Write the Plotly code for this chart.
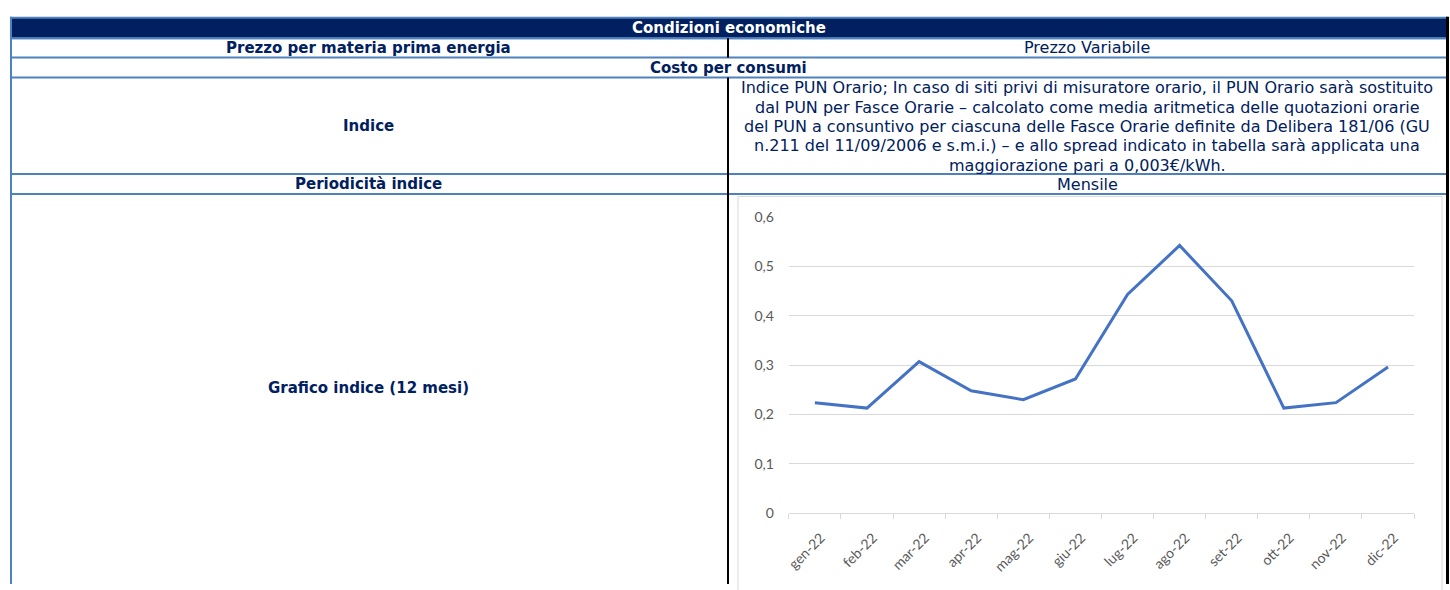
import plotly.graph_objects as go

# ---------------- data ----------------
months = ["gen-22", "feb-22", "mar-22", "apr-22", "mag-22", "giu-22",
          "lug-22", "ago-22", "set-22", "ott-22", "nov-22", "dic-22"]
pun_values = [0.224, 0.213, 0.307, 0.248, 0.230, 0.272,
              0.443, 0.542, 0.430, 0.213, 0.224, 0.296]
y_tick_vals = [0, 0.1, 0.2, 0.3, 0.4, 0.5, 0.6]
y_tick_text = ["0", "0,1", "0,2", "0,3", "0,4", "0,5", "0,6"]

header_title = "Condizioni economiche"
row_labels = ["Prezzo per materia prima energia", "Indice", "Periodicità indice",
              "Grafico indice (12 mesi)"]
span_label = "Costo per consumi"
prezzo_value = "Prezzo Variabile"
periodicita_value = "Mensile"
indice_lines = [
    "Indice PUN Orario; In caso di siti privi di misuratore orario, il PUN Orario sarà sostituito",
    "dal PUN per Fasce Orarie – calcolato come media aritmetica delle quotazioni orarie",
    "del PUN a consuntivo per ciascuna delle Fasce Orarie definite da Delibera 181/06 (GU",
    "n.211 del 11/09/2006 e s.m.i.) – e allo spread indicato in tabella sarà applicata una",
    "maggiorazione pari a 0,003€/kWh.",
]

# ---------------- layout helpers ----------------
W, H = 1450, 590


def px(x):
    return x / W


def py(y):
    return 1 - y / H


NAVY = "#002060"
BLUE = "#4F81BD"
GRID = "#D9D9D9"
TXT_FONT = "DejaVu Sans"
AX_FONT = "Lato"

fig = go.Figure()
fig.add_trace(go.Scatter(
    x=months, y=pun_values, mode="lines",
    line=dict(color="#4472C4", width=3),
    hoverinfo="x+y", showlegend=False,
))

shapes = []
# chart area frame
shapes.append(dict(type="rect", xref="paper", yref="paper",
                   x0=px(736), x1=px(1442), y0=py(193), y1=py(600),
                   line=dict(color=GRID, width=1), layer="below"))
# header band
shapes.append(dict(type="rect", xref="paper", yref="paper",
                   x0=px(7), x1=px(1447), y0=py(9), y1=py(30),
                   fillcolor=NAVY, line=dict(color=BLUE, width=2)))
# horizontal row lines
for yy in [30, 50, 70.5, 170, 190.5]:
    shapes.append(dict(type="line", xref="paper", yref="paper",
                       x0=px(6), x1=px(1447), y0=py(yy), y1=py(yy),
                       line=dict(color=BLUE, width=2)))
# left border
shapes.append(dict(type="line", xref="paper", yref="paper",
                   x0=px(7), x1=px(7), y0=py(8), y1=py(592),
                   line=dict(color=BLUE, width=2)))
# right border
shapes.append(dict(type="line", xref="paper", yref="paper",
                   x0=px(1447.5), x1=px(1447.5), y0=py(8), y1=py(592),
                   line=dict(color="black", width=3)))
# column divider
for (a, b) in [(30, 50), (70.5, 592)]:
    shapes.append(dict(type="line", xref="paper", yref="paper",
                       x0=px(726), x1=px(726), y0=py(a), y1=py(b),
                       line=dict(color="black", width=2)))

annotations = []


def add_text(text, cx, cy, bold=False, color=NAVY, size=16):
    t = f"<b>{text}</b>" if bold else text
    annotations.append(dict(text=t, xref="paper", yref="paper",
                            x=px(cx), y=py(cy), xanchor="center", yanchor="middle",
                            showarrow=False,
                            font=dict(family=TXT_FONT, size=size, color=color)))


LCX = 366
RCX = 1086
BSZ = 15
add_text(header_title, 727, 19.5, bold=True, color="white", size=BSZ)
add_text(row_labels[0], LCX, 40, bold=True, size=BSZ)
add_text(prezzo_value, RCX, 40)
add_text(span_label, 727, 60.5, bold=True, size=BSZ)
add_text(row_labels[1], LCX, 120, bold=True, size=BSZ)
for i, line in enumerate(indice_lines):
    add_text(line, RCX, 81 + 20 * i)
add_text(row_labels[2], LCX, 180.5, bold=True, size=BSZ)
add_text(periodicita_value, RCX, 180.5)
add_text(row_labels[3], LCX, 390, bold=True, size=BSZ)

fig.update_layout(
    width=W, height=H, autosize=False,
    margin=dict(l=0, r=0, t=0, b=0),
    paper_bgcolor="white", plot_bgcolor="white",
    separators=",.",
    shapes=shapes, annotations=annotations,
    xaxis=dict(domain=[px(787), px(1414)], type="category",
               range=[-0.5, 11.5], tickson="boundaries",
               ticks="outside", ticklen=5, tickcolor=GRID,
               showline=True, linecolor=GRID, linewidth=1,
               showgrid=False, tickangle=-45, ticklabelstandoff=10,
               ticklabelshift=6,
               tickfont=dict(family=AX_FONT, size=14, color="#595959")),
    yaxis=dict(domain=[py(519.3), py(214)], range=[0, 0.6],
               tickvals=y_tick_vals, ticktext=y_tick_text,
               showgrid=True, gridcolor=GRID, gridwidth=1,
               zeroline=False, showline=False, ticks="",
               ticklabelstandoff=14,
               tickfont=dict(family=AX_FONT, size=14, color="#595959")),
)

fig.write_html("out.html", config={"displayModeBar": False},
               post_script="document.body.style.margin='0';document.body.style.overflow='hidden';")
